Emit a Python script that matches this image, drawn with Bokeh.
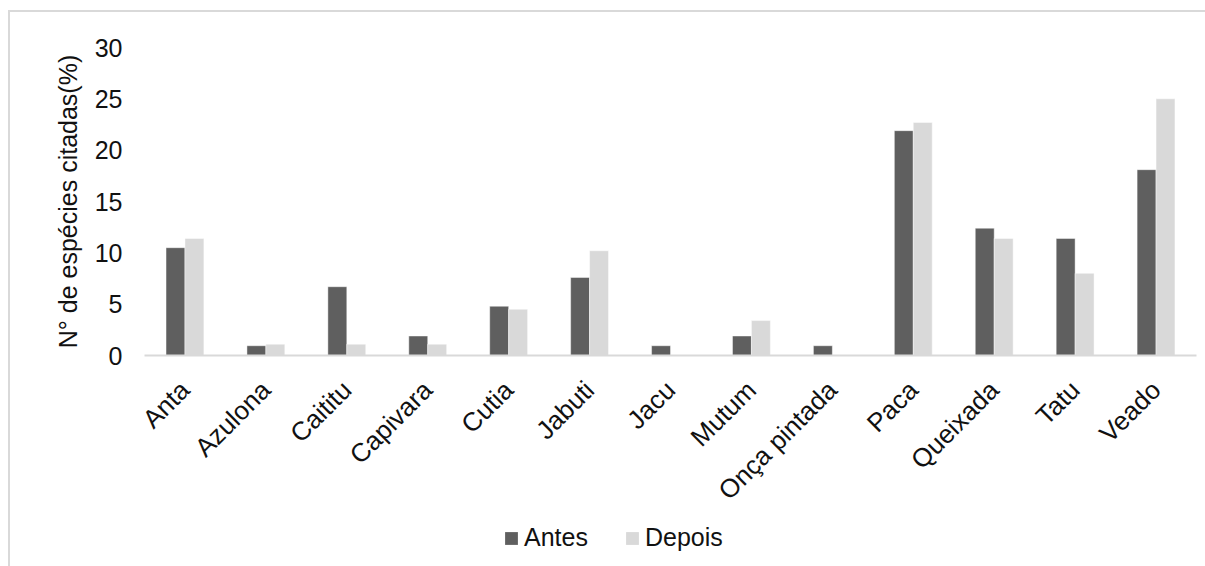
from bokeh.plotting import figure
from bokeh.layouts import column
from bokeh.models import ColumnDataSource, FactorRange, Range1d, Legend, LegendItem, FixedTicker
from bokeh.transform import dodge
from bokeh.embed import file_html
from bokeh.resources import INLINE
from math import pi

# Species cited (% of citations), before and after
especies = ["Anta", "Azulona", "Caititu", "Capivara", "Cutia", "Jabuti", "Jacu",
            "Mutum", "Onça pintada", "Paca", "Queixada", "Tatu", "Veado"]
antes = [10.5, 0.95, 6.7, 1.9, 4.8, 7.6, 0.95, 1.9, 0.95, 21.9, 12.4, 11.4, 18.1]
depois = [11.4, 1.1, 1.1, 1.1, 4.5, 10.2, 0.0, 3.4, 0.0, 22.7, 11.4, 8.0, 25.0]
series = ["Antes", "Depois"]
y_ticks = [0, 5, 10, 15, 20, 25, 30]

FONT = "Liberation Sans"
DARK = "#5f5f5f"
LIGHT = "#d9d9d9"
TEXT = "#111111"

src = ColumnDataSource(dict(especie=especies, antes=antes, depois=depois))

W = 1195
p = figure(x_range=FactorRange(*especies, range_padding=0),
           y_range=Range1d(0, 30),
           width=W, height=508,
           min_border_left=134, min_border_right=9,
           min_border_top=35, min_border_bottom=165,
           output_backend="svg", toolbar_location=None)

bw = 0.234
p.vbar(x=dodge("especie", -bw / 2, range=p.x_range), top="antes", width=bw,
       source=src, fill_color=DARK, line_color="white", line_alpha=0.45, line_width=1)
p.vbar(x=dodge("especie", bw / 2, range=p.x_range), top="depois", width=bw,
       source=src, fill_color=LIGHT, line_color="white", line_alpha=0.45, line_width=1)

p.outline_line_color = None
p.xgrid.grid_line_color = None
p.ygrid.grid_line_color = None

# y axis: labels only
p.yaxis.ticker = FixedTicker(ticks=y_ticks)
p.yaxis.axis_line_color = None
p.yaxis.major_tick_line_color = None
p.yaxis.minor_tick_line_color = None
p.yaxis.major_tick_out = 0
p.yaxis.minor_tick_out = 0
p.yaxis.major_label_standoff = 22
p.yaxis.major_label_text_font = FONT
p.yaxis.major_label_text_font_size = "25px"
p.yaxis.major_label_text_color = TEXT
p.yaxis.axis_label = "N° de espécies citadas(%)"
p.yaxis.axis_label_text_font = FONT
p.yaxis.axis_label_text_font_size = "25px"
p.yaxis.axis_label_text_font_style = "normal"
p.yaxis.axis_label_text_color = TEXT
p.yaxis.axis_label_standoff = 10

# x axis: light baseline with rotated species names
p.xaxis.axis_line_color = LIGHT
p.xaxis.axis_line_width = 2
p.xaxis.major_tick_line_color = None
p.xaxis.minor_tick_line_color = None
p.xaxis.major_tick_out = 0
p.xaxis.major_label_orientation = pi / 4
p.xaxis.major_label_standoff = 30
p.xaxis.major_label_text_font = FONT
p.xaxis.major_label_text_font_size = "26px"
p.xaxis.major_label_text_color = TEXT

# legend strip under the chart; its key glyphs are zero-height swatches
q = figure(width=W, height=46, x_range=Range1d(0, 1), y_range=Range1d(0, 1),
           x_axis_location=None, y_axis_location=None,
           min_border=0, output_backend="svg", toolbar_location=None)
q.outline_line_color = None
q.xgrid.grid_line_color = None
q.ygrid.grid_line_color = None
k1 = q.vbar(x=[0.5], top=[0], bottom=[0], width=0.1, fill_color=DARK, line_color=None)
k2 = q.vbar(x=[0.5], top=[0], bottom=[0], width=0.1, fill_color=LIGHT, line_color=None)

legend = Legend(items=[LegendItem(label=series[0], renderers=[k1]),
                       LegendItem(label=series[1], renderers=[k2])],
                orientation="horizontal", location=(359, 14),
                glyph_width=16, glyph_height=16, label_standoff=5, spacing=36,
                padding=0, margin=0, border_line_color=None,
                background_fill_alpha=0,
                label_text_font=FONT, label_text_font_size="25px",
                label_text_color=TEXT, label_height=16)
q.add_layout(legend, "center")

page = column(p, q, spacing=0)
page.margin = (10, 0, 0, 8)
page.styles = {"border-top": "2px solid #d9d9d9", "border-left": "2px solid #d9d9d9"}

open("out.html", "w").write(file_html(page, INLINE))
